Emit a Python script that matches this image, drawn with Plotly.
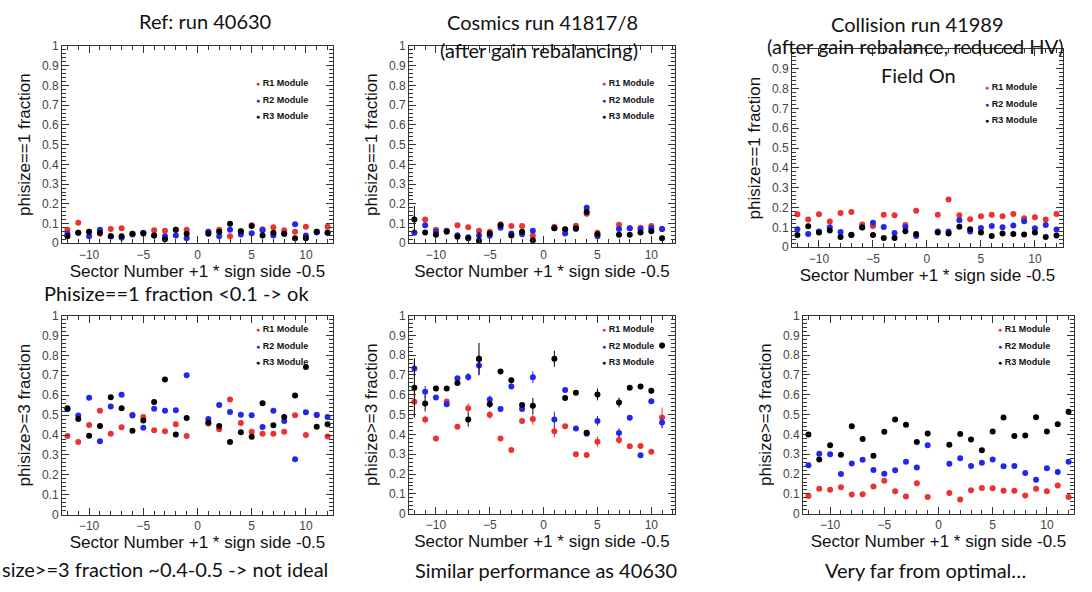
import plotly.graph_objects as go

W, H = 1092, 592

# ---------------- data ----------------
sectors_full = [-12, -11, -10, -9, -8, -7, -6, -5, -4, -3, -2, -1,
                1, 2, 3, 4, 5, 6, 7, 8, 9, 10, 11, 12]
sectors_cosm = [-12, -11, -10, -9, -8, -7, -6, -5, -4, -3, -2, -1,
                1, 2, 3, 4, 5, 7, 8, 9, 10, 11]

# Ref run 40630, phisize==1
ref_p1_r1 = [0.069, 0.104, 0.058, 0.048, 0.073, 0.076, 0.048, 0.052, 0.066, 0.063, 0.068, 0.068,
             0.058, 0.069, 0.035, 0.061, 0.092, 0.071, 0.081, 0.066, 0.059, 0.084, 0.059, 0.084]
ref_p1_r2 = [0.048, 0.053, 0.035, 0.069, 0.036, 0.028, 0.045, 0.053, 0.040, 0.036, 0.040, 0.025,
             0.059, 0.035, 0.069, 0.045, 0.051, 0.066, 0.040, 0.048, 0.097, 0.040, 0.054, 0.053]
ref_p1_r3 = [0.036, 0.053, 0.058, 0.053, 0.036, 0.036, 0.048, 0.050, 0.040, 0.020, 0.068, 0.048,
             0.048, 0.058, 0.099, 0.061, 0.087, 0.040, 0.053, 0.048, 0.025, 0.025, 0.059, 0.053]

# Cosmics run 41817/8, phisize==1
cos_p1_r1 = [0.055, 0.120, 0.068, 0.062, 0.092, 0.081, 0.064, 0.059, 0.096, 0.087, 0.087, 0.038,
             0.084, 0.070, 0.089, 0.150, 0.053, 0.094, 0.076, 0.079, 0.087, 0.073]
cos_p1_r2 = [0.053, 0.092, 0.058, 0.064, 0.041, 0.031, 0.040, 0.038, 0.079, 0.050, 0.046, 0.063,
             0.076, 0.050, 0.073, 0.180, 0.036, 0.073, 0.076, 0.073, 0.076, 0.073]
cos_p1_r3 = [0.120, 0.054, 0.043, 0.058, 0.033, 0.026, 0.013, 0.050, 0.092, 0.040, 0.059, 0.015,
             0.076, 0.071, 0.076, 0.158, 0.046, 0.043, 0.043, 0.054, 0.061, 0.025]
cos_p1_r1_err = [0.010, 0.010, 0.005, 0.005, 0.005, 0.005, 0.010, 0.005, 0.005, 0.005, 0.005, 0.005,
                 0.010, 0.005, 0.005, 0.015, 0.005, 0.005, 0.005, 0.005, 0.005, 0.005]
cos_p1_r2_err = [0.010, 0.010, 0.005, 0.005, 0.005, 0.005, 0.010, 0.005, 0.005, 0.005, 0.005, 0.010,
                 0.010, 0.005, 0.005, 0.015, 0.005, 0.005, 0.005, 0.005, 0.005, 0.015]
cos_p1_r3_err = [0.070, 0.010, 0.005, 0.005, 0.005, 0.005, 0.045, 0.010, 0.010, 0.005, 0.005, 0.005,
                 0.010, 0.005, 0.005, 0.015, 0.005, 0.005, 0.005, 0.005, 0.005, 0.015]

# Collision run 41989, phisize==1
col_p1_r1 = [0.166, 0.140, 0.166, 0.130, 0.172, 0.177, 0.115, 0.107, 0.164, 0.161, 0.112, 0.184,
             0.164, 0.241, 0.161, 0.141, 0.156, 0.163, 0.156, 0.168, 0.146, 0.151, 0.140, 0.168]
col_p1_r2 = [0.090, 0.066, 0.079, 0.100, 0.077, 0.063, 0.100, 0.123, 0.102, 0.072, 0.102, 0.056,
             0.079, 0.079, 0.136, 0.079, 0.097, 0.107, 0.100, 0.110, 0.131, 0.095, 0.112, 0.089]
col_p1_r3 = [0.062, 0.105, 0.074, 0.084, 0.051, 0.062, 0.099, 0.061, 0.046, 0.046, 0.080, 0.067,
             0.074, 0.069, 0.103, 0.090, 0.074, 0.057, 0.069, 0.066, 0.064, 0.074, 0.051, 0.059]

# Ref run 40630, phisize>=3
ref_p3_r1 = [0.395, 0.365, 0.450, 0.522, 0.406, 0.439, 0.502, 0.491, 0.424, 0.419, 0.454, 0.395,
             0.458, 0.429, 0.579, 0.460, 0.416, 0.406, 0.406, 0.416, 0.499, 0.400, 0.502, 0.393]
ref_p3_r2 = [0.530, 0.498, 0.587, 0.369, 0.543, 0.602, 0.498, 0.436, 0.532, 0.522, 0.525, 0.700,
             0.480, 0.551, 0.516, 0.502, 0.499, 0.440, 0.522, 0.471, 0.279, 0.514, 0.500, 0.491]
ref_p3_r3 = [0.535, 0.480, 0.396, 0.445, 0.590, 0.535, 0.421, 0.473, 0.566, 0.679, 0.403, 0.486,
             0.462, 0.445, 0.365, 0.414, 0.392, 0.560, 0.449, 0.491, 0.599, 0.742, 0.442, 0.454]

# Cosmics run 41817/8, phisize>=3
cos_p3_r1 = [0.565, 0.475, 0.380, 0.566, 0.439, 0.532, 0.780, 0.499, 0.380, 0.322, 0.468, 0.478,
             0.416, 0.442, 0.300, 0.296, 0.363, 0.372, 0.340, 0.342, 0.313, 0.486]
cos_p3_r2 = [0.733, 0.615, 0.586, 0.553, 0.684, 0.690, 0.748, 0.576, 0.529, 0.642, 0.529, 0.689,
             0.475, 0.624, 0.430, 0.404, 0.468, 0.407, 0.484, 0.295, 0.568, 0.460]
cos_p3_r3 = [0.635, 0.556, 0.632, 0.632, 0.660, 0.475, 0.782, 0.553, 0.718, 0.673, 0.548, 0.545,
             0.782, 0.584, 0.610, 0.409, 0.602, 0.561, 0.635, 0.642, 0.620, 0.849]
cos_p3_r1_err = [0.070, 0.020, 0.010, 0.010, 0.010, 0.025, 0.020, 0.020, 0.010, 0.010, 0.010, 0.030,
                 0.030, 0.010, 0.010, 0.010, 0.025, 0.020, 0.010, 0.010, 0.010, 0.050]
cos_p3_r2_err = [0.040, 0.030, 0.010, 0.015, 0.010, 0.020, 0.050, 0.020, 0.010, 0.010, 0.010, 0.030,
                 0.040, 0.010, 0.010, 0.010, 0.025, 0.025, 0.010, 0.010, 0.010, 0.030]
cos_p3_r3_err = [0.150, 0.040, 0.010, 0.010, 0.010, 0.035, 0.080, 0.020, 0.010, 0.015, 0.015, 0.040,
                 0.040, 0.010, 0.010, 0.010, 0.030, 0.025, 0.010, 0.010, 0.015, 0.015]

# Collision run 41989, phisize>=3
col_p3_r1 = [0.089, 0.126, 0.121, 0.133, 0.097, 0.098, 0.138, 0.166, 0.113, 0.087, 0.154, 0.084,
             0.105, 0.072, 0.118, 0.130, 0.128, 0.116, 0.116, 0.092, 0.126, 0.113, 0.143, 0.084]
col_p3_r2 = [0.244, 0.303, 0.300, 0.200, 0.254, 0.272, 0.221, 0.202, 0.220, 0.262, 0.233, 0.346,
             0.252, 0.280, 0.241, 0.257, 0.274, 0.239, 0.241, 0.205, 0.172, 0.230, 0.211, 0.262]
col_p3_r3 = [0.400, 0.274, 0.346, 0.298, 0.441, 0.377, 0.292, 0.413, 0.475, 0.449, 0.362, 0.405,
             0.348, 0.402, 0.375, 0.320, 0.415, 0.485, 0.392, 0.395, 0.487, 0.415, 0.451, 0.515]

series_names = ["R1 Module", "R2 Module", "R3 Module"]
colors = ["#ee3030", "#2028ee", "#000000"]

y_ticks_full = [0, 0.1, 0.2, 0.3, 0.4, 0.5, 0.6, 0.7, 0.8, 0.9, 1]
y_ticks_no_top = [0, 0.1, 0.2, 0.3, 0.4, 0.5, 0.6, 0.7, 0.8, 0.9]

title_lines = [
    "Ref: run 40630",
    "Cosmics run 41817/8",
    "(after gain rebalancing)",
    "Collision run 41989",
    "(after gain rebalance, reduced HV)",
    "Field On",
]
comments = [
    "Phisize==1 fraction <0.1 -> ok",
    "size>=3 fraction ~0.4-0.5 -> not ideal",
    "Similar performance as 40630",
    "Very far from optimal…",
]
xtitle = "Sector Number +1 * sign side -0.5"
ytitles = ["phisize==1 fraction", "phisize>=3 fraction"]

# ---------------- layout geometry (pixels) ----------------
def px(x):
    return x / W

def py(y):
    return 1 - y / H

panels = [
    dict(x=sectors_full, ys=[ref_p1_r1, ref_p1_r2, ref_p1_r3], errs=None,
         xd=(62, 333), yd=(40, 242), xr=[-12.5, 12.5], yt=0, leg=(257, 78), yticks=y_ticks_full),
    dict(x=sectors_cosm, ys=[cos_p1_r1, cos_p1_r2, cos_p1_r3],
         errs=[cos_p1_r1_err, cos_p1_r2_err, cos_p1_r3_err],
         xd=(409, 675), yd=(40, 242), xr=[-12.5, 12.2], yt=0, leg=(603, 78), yticks=y_ticks_full),
    dict(x=sectors_full, ys=[col_p1_r1, col_p1_r2, col_p1_r3], errs=None,
         xd=(792, 1063), yd=(43, 246), xr=[-12.5, 12.6], yt=0, leg=(986, 82), yticks=y_ticks_no_top),
    dict(x=sectors_full, ys=[ref_p3_r1, ref_p3_r2, ref_p3_r3], errs=None,
         xd=(62, 333), yd=(316, 520), xr=[-12.5, 12.5], yt=1, leg=(257, 330), yticks=y_ticks_full),
    dict(x=sectors_cosm, ys=[cos_p3_r1, cos_p3_r2, cos_p3_r3],
         errs=[cos_p3_r1_err, cos_p3_r2_err, cos_p3_r3_err],
         xd=(409, 675), yd=(316, 519), xr=[-12.5, 12.2], yt=1, leg=(603, 330), yticks=y_ticks_full),
    dict(x=sectors_full, ys=[col_p3_r1, col_p3_r2, col_p3_r3], errs=None,
         xd=(803, 1074), yd=(316, 519), xr=[-12.5, 12.5], yt=1, leg=(999, 330), yticks=y_ticks_full),
]

fig = go.Figure()
axis_color = "#333333"
tick_font = dict(family="Liberation Sans, Arial, sans-serif", size=12, color="#444444")
title_font = dict(family="Liberation Sans, Arial, sans-serif", size=17, color="#111111")

annotations = []
for i, p in enumerate(panels):
    n = i + 1
    xa = "x" if n == 1 else f"x{n}"
    ya = "y" if n == 1 else f"y{n}"
    for k in range(3):
        err = None
        if p["errs"] is not None:
            err = dict(type="data", array=p["errs"][k], visible=True,
                       color=colors[k], thickness=1, width=0)
        fig.add_trace(go.Scatter(
            x=p["x"], y=p["ys"][k], mode="markers", name=series_names[k],
            marker=dict(color=colors[k], size=6, line=dict(width=0)),
            error_y=err, xaxis=xa, yaxis=ya, showlegend=False))

    xkey = "xaxis" if n == 1 else f"xaxis{n}"
    ykey = "yaxis" if n == 1 else f"yaxis{n}"
    fig.layout[xkey] = dict(
        domain=[px(p["xd"][0]), px(p["xd"][1])], range=p["xr"], anchor=ya,
        showline=True, linecolor=axis_color, linewidth=1, mirror="ticks",
        ticks="inside", ticklen=7, tickcolor=axis_color, tickwidth=1,
        tick0=0, dtick=5, showgrid=False, zeroline=False, tickfont=tick_font,
        minor=dict(ticks="inside", ticklen=4, dtick=1, tickcolor=axis_color, showgrid=False),
        title=dict(text=xtitle, font=title_font, standoff=0))
    fig.layout[ykey] = dict(
        domain=[py(p["yd"][1]), py(p["yd"][0])], range=[0, 1], anchor=xa,
        showline=True, linecolor=axis_color, linewidth=1, mirror="ticks",
        ticks="inside", ticklen=7, tickcolor=axis_color, tickwidth=1,
        tickmode="array", tickvals=p["yticks"], showgrid=False, zeroline=False,
        tickfont=tick_font,
        minor=dict(ticks="inside", ticklen=4, dtick=0.02, tick0=0, tickcolor=axis_color,
                   showgrid=False),
        title=dict(text=ytitles[p["yt"]], font=title_font, standoff=6))

    lx, ly = p["leg"]
    for k in range(3):
        annotations.append(dict(
            xref="paper", yref="paper", x=px(lx - 3), y=py(ly + 17 * k),
            xanchor="left", yanchor="middle", showarrow=False,
            text=f"<span style='color:{colors[k]};font-size:7px'>●</span> <b>{series_names[k]}</b>",
            font=dict(family="Liberation Sans, Arial, sans-serif", size=9, color="#111111")))

big_font = dict(family="Lato, 'Open Sans', sans-serif", size=20, color="#111111")

def text_at(text, x, y, anchor="center"):
    annotations.append(dict(xref="paper", yref="paper", x=px(x), y=py(y), text=text,
                            showarrow=False, xanchor=anchor, yanchor="middle", font=big_font))

# column titles
text_at(title_lines[0], 205, 14)
text_at(title_lines[1], 542, 15)
text_at(title_lines[2], 539, 44)
text_at(title_lines[3], 917, 17)
text_at(title_lines[4], 915, 40)
text_at(title_lines[5], 918, 70)
# comments
text_at(comments[0], 176, 293)
text_at(comments[1], 0, 576, anchor="left")
text_at(comments[2], 546, 577)
text_at(comments[3], 925, 577)

fig.update_layout(
    width=W, height=H, margin=dict(l=0, r=0, t=0, b=0),
    paper_bgcolor="white", plot_bgcolor="white",
    annotations=annotations, showlegend=False,
)

fig.write_html("out.html")
